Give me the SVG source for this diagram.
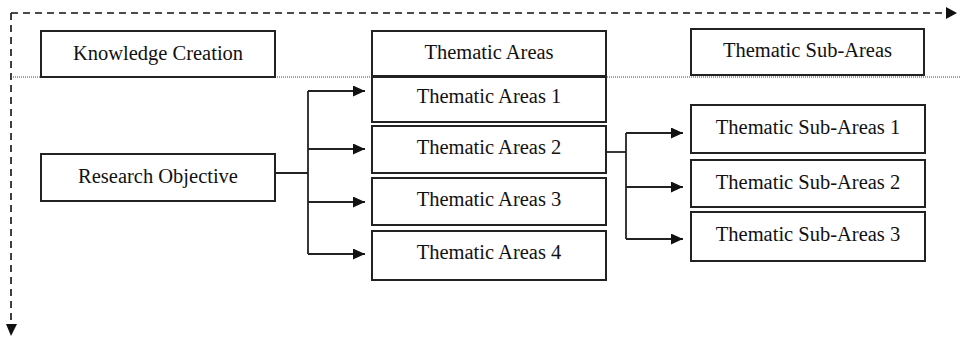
<svg xmlns="http://www.w3.org/2000/svg" width="960" height="341" viewBox="0 0 960 341">
  <defs>
    <marker id="arrow" markerUnits="userSpaceOnUse" markerWidth="12" markerHeight="11" refX="12" refY="5.5" orient="auto">
      <path d="M0,0 L12,5.5 L0,11 Z" fill="#111"/>
    </marker>
    <marker id="arrowSmall" markerUnits="userSpaceOnUse" markerWidth="11" markerHeight="12" refX="11" refY="6" orient="auto">
      <path d="M0,0 L11,6 L0,12 Z" fill="#111"/>
    </marker>
    <style>
      .box { fill: #fff; stroke: #222; stroke-width: 2; }
      .label { font-family: "Liberation Serif", "Times New Roman", serif; font-size: 20.5px; fill: #111; text-anchor: middle; }
      .conn { fill: none; stroke: #222; stroke-width: 1.8; }
      .axis { fill: none; stroke: #111; stroke-width: 1.6; stroke-dasharray: 7 5; }
      .sep { fill: none; stroke: #444; stroke-width: 1.2; stroke-dasharray: 1 1; }
    </style>
  </defs>

  <rect width="960" height="341" fill="#fff"/>

  <!-- axes and header separator -->
  <g id="axes">
    <path class="axis" d="M11,13 L957,13" marker-end="url(#arrowSmall)"/>
    <path class="axis" d="M11,13 L11,326"/>
    <path d="M6,324 L17,324 L11,336 Z" fill="#111"/>
    <line class="sep" x1="11" y1="77" x2="960" y2="77"/>
  </g>

  <!-- connectors -->
  <g id="connectors">
    <path class="conn" d="M275,173 H308"/>
    <path class="conn" d="M308,91 V254"/>
    <path class="conn" d="M308,91 H365" marker-end="url(#arrow)"/>
    <path class="conn" d="M308,149 H365" marker-end="url(#arrow)"/>
    <path class="conn" d="M308,202 H365" marker-end="url(#arrow)"/>
    <path class="conn" d="M308,254 H365" marker-end="url(#arrow)"/>
    <path class="conn" d="M606,152 H626"/>
    <path class="conn" d="M626,133 V239"/>
    <path class="conn" d="M626,133 H683" marker-end="url(#arrow)"/>
    <path class="conn" d="M626,187 H683" marker-end="url(#arrow)"/>
    <path class="conn" d="M626,239 H683" marker-end="url(#arrow)"/>
  </g>

  <!-- header row -->
  <g id="knowledge-creation">
    <rect class="box" x="41" y="31" width="234" height="46"/>
    <text class="label" x="158" y="60">Knowledge Creation</text>
  </g>
  <g id="thematic-areas">
    <rect class="box" x="372" y="31" width="234" height="45"/>
    <text class="label" x="489" y="59">Thematic Areas</text>
  </g>
  <g id="thematic-sub-areas">
    <rect class="box" x="691" y="29" width="233" height="46"/>
    <text class="label" x="807.5" y="57">Thematic Sub-Areas</text>
  </g>

  <!-- objective -->
  <g id="research-objective">
    <rect class="box" x="41" y="154" width="234" height="47"/>
    <text class="label" x="158" y="183">Research Objective</text>
  </g>

  <!-- thematic areas -->
  <g id="thematic-areas-1">
    <rect class="box" x="372" y="77" width="234" height="45"/>
    <text class="label" x="489" y="103">Thematic Areas 1</text>
  </g>
  <g id="thematic-areas-2">
    <rect class="box" x="372" y="126" width="234" height="47"/>
    <text class="label" x="489" y="154">Thematic Areas 2</text>
  </g>
  <g id="thematic-areas-3">
    <rect class="box" x="372" y="178" width="234" height="47"/>
    <text class="label" x="489" y="206">Thematic Areas 3</text>
  </g>
  <g id="thematic-areas-4">
    <rect class="box" x="372" y="231" width="234" height="49"/>
    <text class="label" x="489" y="259">Thematic Areas 4</text>
  </g>

  <!-- thematic sub-areas -->
  <g id="thematic-sub-areas-1">
    <rect class="box" x="691" y="105" width="234" height="48"/>
    <text class="label" x="808" y="134">Thematic Sub-Areas 1</text>
  </g>
  <g id="thematic-sub-areas-2">
    <rect class="box" x="691" y="160" width="234" height="47"/>
    <text class="label" x="808" y="189">Thematic Sub-Areas 2</text>
  </g>
  <g id="thematic-sub-areas-3">
    <rect class="box" x="691" y="212" width="234" height="49"/>
    <text class="label" x="808" y="241">Thematic Sub-Areas 3</text>
  </g>
</svg>
